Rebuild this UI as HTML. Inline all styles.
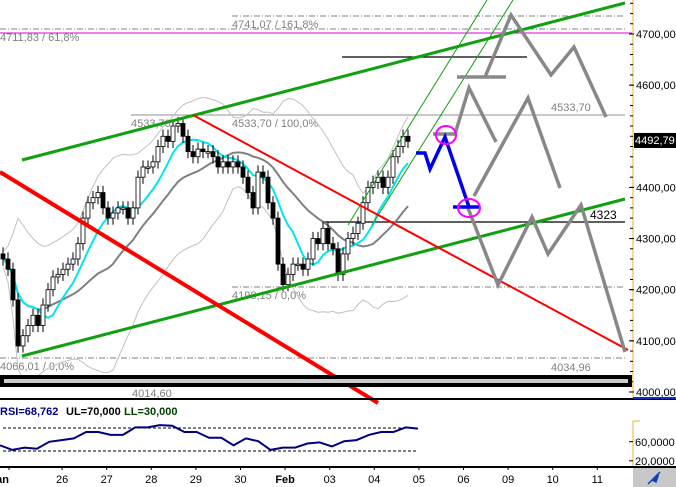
<!DOCTYPE html>
<html><head><meta charset="utf-8"><style>
html,body{margin:0;padding:0;background:#fff;width:676px;height:487px;overflow:hidden}
svg{display:block;font-family:"Liberation Sans",sans-serif}
</style></head><body>
<svg id="chart" width="676" height="487" viewBox="0 0 676 487" xmlns="http://www.w3.org/2000/svg">
<rect x="0" y="0" width="676" height="487" fill="#fff"/>
<g id="g-lines"></g>
<g id="g-ind"></g>
<g id="g-candles"></g>
<g id="g-draw"></g>
<g id="g-axis"></g>
<g id="g-rsi"></g>
<g id="g-date"></g>
</svg>
<script>
const closes=[4260,4240,4180,4090,4110,4130,4150,4130,4170,4200,4225,4230,4240,4250,4260,4290,4340,4370,4380,4390,4360,4340,4350,4360,4360,4340,4360,4420,4440,4440,4450,4480,4500,4490,4520,4525,4500,4470,4460,4475,4470,4470,4460,4440,4450,4440,4450,4440,4420,4390,4360,4430,4420,4370,4340,4250,4210,4230,4250,4250,4240,4260,4300,4290,4320,4290,4280,4230,4270,4300,4310,4330,4370,4400,4410,4420,4400,4420,4460,4480,4500,4490];
const rsiValues=[40,32,36,34,46,49,52,63,63,58,58,71,71,75,74,63,63,53,53,40,52,47,32,36,36,43,45,38,47,49,58,63,63,71,69];
const dateLabels=['Jan','26','27','28','29','30','Feb','03','04','05','06','09','10','11'];
const axisTicks=[4700,4600,4400,4300,4200,4100,4000];
const rsiTicks=[60,20];
const lastPrice=4492.79;

const NS='http://www.w3.org/2000/svg';
function yP(v){return 34+(4700-v)*0.5114;}
function xI(i){return 3+i*5;}
function xD(d){return 17.5+d*44.6;}
function yR(v){return 428+(70-v)*0.575;}
function mk(parent,tag,attrs,name,text){const e=document.createElementNS(NS,tag);for(const k in attrs)e.setAttribute(k,attrs[k]);


if(text!==undefined)e.textContent=text;document.getElementById(parent).appendChild(e);return e;}
function line(p,x1,y1,x2,y2,st,w,name,dash){const a={x1,y1,x2,y2,stroke:st,'stroke-width':w};if(dash)a['stroke-dasharray']=dash;return mk(p,'line',a,name);}
function txt(p,x,y,s,fill,name,size,anchor,weight){const a={x,y,fill,'font-size':size||11};if(anchor)a['text-anchor']=anchor;if(weight)a['font-weight']=weight;return mk(p,'text',a,name,s);}

const dd='6,2,1,2';
line('g-lines',232,16,625,16,'#808080',1,'level-4741',dd);
txt('g-lines',232,28,'4741,07 / 161,8%','#808080','label-4741');
line('g-lines',0,29,625,29,'#808080',1,'level-4711',dd);
txt('g-lines',0,41,'4711,83 / 61,8%','#808080','label-4711');
line('g-lines',0,33,632,33,'#e000e0',1,'magenta-level');
line('g-lines',131,115,625,115,'#909090',1,'level-4533');
txt('g-lines',131,127,'4533,70','#808080','label-4533-left');
txt('g-lines',232,127,'4533,70 / 100,0%','#808080','label-4533-pct');
txt('g-lines',551,111,'4533,70','#808080','label-4533-right');
line('g-lines',232,287,625,287,'#808080',1,'level-4198',dd);
txt('g-lines',232,299,'4198,15 / 0,0%','#808080','label-4198');
line('g-lines',0,358,625,358,'#808080',1,'level-4066',dd);
txt('g-lines',0,370,'4066,01 / 0,0%','#808080','label-4066');
txt('g-lines',551,371,'4034,96','#808080','label-4034');
line('g-lines',342,57,527,57,'#000',1.3,'resistance-line');
line('g-lines',322,222,625,222,'#000',1.3,'level-4323');
txt('g-lines',590,219,'4323','#000','label-4323',12);

function sma(n,i){let s=0,c=0;for(let k=Math.max(0,i-n+1);k<=i;k++){s+=closes[k];c++;}return s/c;}
function sd(n,i){const m=sma(n,i);let s=0,c=0;for(let k=Math.max(0,i-n+1);k<=i;k++){s+=(closes[k]-m)**2;c++;}return Math.sqrt(s/c);}
function pathFrom(fn){let d='';closes.forEach((_,i)=>{d+=(i?'L':'M')+xI(i).toFixed(1)+','+yP(fn(i)).toFixed(1);});return d;}
mk('g-ind','path',{d:pathFrom(i=>sma(20,i)+2*sd(20,i)+15),fill:'none',stroke:'#c0c0c0','stroke-width':1},'bollinger-upper');
mk('g-ind','path',{d:pathFrom(i=>sma(20,i)-2*sd(20,i)-15),fill:'none',stroke:'#c0c0c0','stroke-width':1},'bollinger-lower');
mk('g-ind','path',{d:pathFrom(i=>sma(20,i)),fill:'none',stroke:'#808080','stroke-width':2},'sma-slow');
mk('g-ind','path',{d:pathFrom(i=>sma(8,i)),fill:'none',stroke:'#00e5ee','stroke-width':2},'sma-fast');

closes.forEach((c,i)=>{const o=i?closes[i-1]:c+10;const hi=Math.max(o,c)+13,lo=Math.min(o,c)-13;const x=xI(i);
line('g-candles',x,yP(hi),x,yP(lo),'#000',1,'candle-wick');
const top=yP(Math.max(o,c)),h=Math.max(1.5,Math.abs(yP(o)-yP(c)));
mk('g-candles','rect',{x:x-2,y:top,width:4,height:h,fill:c>=o?'#fff':'#000',stroke:'#000','stroke-width':0.8},'candle-body');});

line('g-draw',22,160,625,3,'#10a010',3,'channel-upper');
line('g-draw',22,356,625,199,'#10a010',3,'channel-lower');
line('g-draw',348,225,487,0,'#10a010',1,'thin-channel-a');
line('g-draw',372,225,513,0,'#10a010',1,'thin-channel-b');
line('g-draw',193,115,628,350,'#ff0000',2,'red-trend-upper');
line('g-draw',0,172,378,403,'#ff0000',4,'red-trend-lower');
const gray=[[[455,134],[469,88],[496,142]],[[485,77],[511,15],[551,75],[574,47],[606,117]],[[474,196],[528,98],[560,188]],[[468,208],[498,285],[532,217],[548,254],[581,205],[625,352]]];
gray.forEach(p=>mk('g-draw','polyline',{points:p.map(q=>q.join(',')).join(' '),fill:'none',stroke:'#888','stroke-width':3.5},'scenario-path'));
line('g-draw',457,77,506,77,'#888',3.5,'scenario-flat');
line('g-draw',433,134,457,134,'#888',3.5,'scenario-flat-2');
mk('g-draw','polyline',{points:'416,153 425,153 430,169 445,137 469,207',fill:'none',stroke:'#0000ee','stroke-width':3.5},'blue-projection');
line('g-draw',453,207,479,207,'#0000ee',3.5,'blue-target');
mk('g-draw','ellipse',{cx:446,cy:135,rx:10,ry:9,fill:'none',stroke:'#ff00ff','stroke-width':2},'circle-high');
mk('g-draw','ellipse',{cx:469,cy:208,rx:11,ry:9,fill:'none',stroke:'#ff00ff','stroke-width':2},'circle-low');
mk('g-draw','rect',{x:2,y:377,width:628,height:8,fill:'#ccc',stroke:'#000','stroke-width':4},'range-bar');
txt('g-draw',132,397,'4014,60','#808080','label-4014');

mk('g-axis','rect',{x:633,y:0,width:43,height:400,fill:'#fff'},'axis-bg');
line('g-axis',633,0,633,398,'#f0b030',1,'axis-line');
for(let v=4000;v<=4760;v+=20){line('g-axis',630,yP(v),633,yP(v),'#000',1,'minor-tick');}
axisTicks.forEach(v=>{line('g-axis',629,yP(v),634,yP(v),'#000',1,'major-tick');txt('g-axis',636,yP(v)+4,v.toFixed(2).replace('.',','),'#000','tick-label',11);});
mk('g-axis','rect',{x:634,y:yP(lastPrice)-7,width:42,height:15,fill:'#000'},'last-price-tag');
txt('g-axis',635,yP(lastPrice)+4,lastPrice.toFixed(2).replace('.',','),'#fff','last-price-label',11);
line('g-axis',0,399,676,399,'#000',2,'panel-separator');
line('g-axis',633,398,676,398,'#1030c0',2,'axis-bottom-blue');

txt('g-rsi',0,415,'RSI=68,762','#000080','rsi-value',11,null,'bold');
txt('g-rsi',66,415,'UL=70,000','#000','rsi-ul',11,null,'bold');
txt('g-rsi',124,415,'LL=30,000','#004000','rsi-ll',11,null,'bold');
line('g-rsi',3,yR(70),418,yR(70),'#000',1,'rsi-upper-limit','3,2');
line('g-rsi',3,yR(30),418,yR(30),'#000',1,'rsi-lower-limit','3,2');
let rd='';rsiValues.forEach((v,i)=>{rd+=(i?'L':'M')+(i*418/(rsiValues.length-1)).toFixed(1)+','+yR(v).toFixed(1);});
mk('g-rsi','path',{d:rd,fill:'none',stroke:'#000080','stroke-width':2},'rsi-line');
line('g-rsi',633,421,633,468,'#f0b030',1,'rsi-axis-line');
line('g-rsi',633,421,640,421,'#f0b030',1,'rsi-axis-top');
rsiTicks.forEach(v=>{const y=yR(v)+(v==60?8:4);line('g-rsi',629,y,633,y,'#000',1,'rsi-tick');txt('g-rsi',635,y+4,v+',0000','#000','rsi-tick-label',11);});
line('g-rsi',0,467,676,467,'#000',2,'rsi-bottom');

dateLabels.forEach((s,i)=>{const x=i==0?9:xD(i);txt('g-date',x,483,s,'#000','date-label',11,i==0?'end':'middle',s=='Feb'||s=='Jan'?'bold':null);
line('g-date',x,467,x,470,'#000',1,'date-tick');});
mk('g-date','rect',{x:633,y:468,width:43,height:19,fill:'#c8c8c8'},'tool-button');
mk('g-date','path',{d:'M648,484 L660,472 M652,480 L658,476 L656,482 Z',fill:'#1040c0',stroke:'#1040c0','stroke-width':1.5},'tool-icon');
</script>
</body></html>
